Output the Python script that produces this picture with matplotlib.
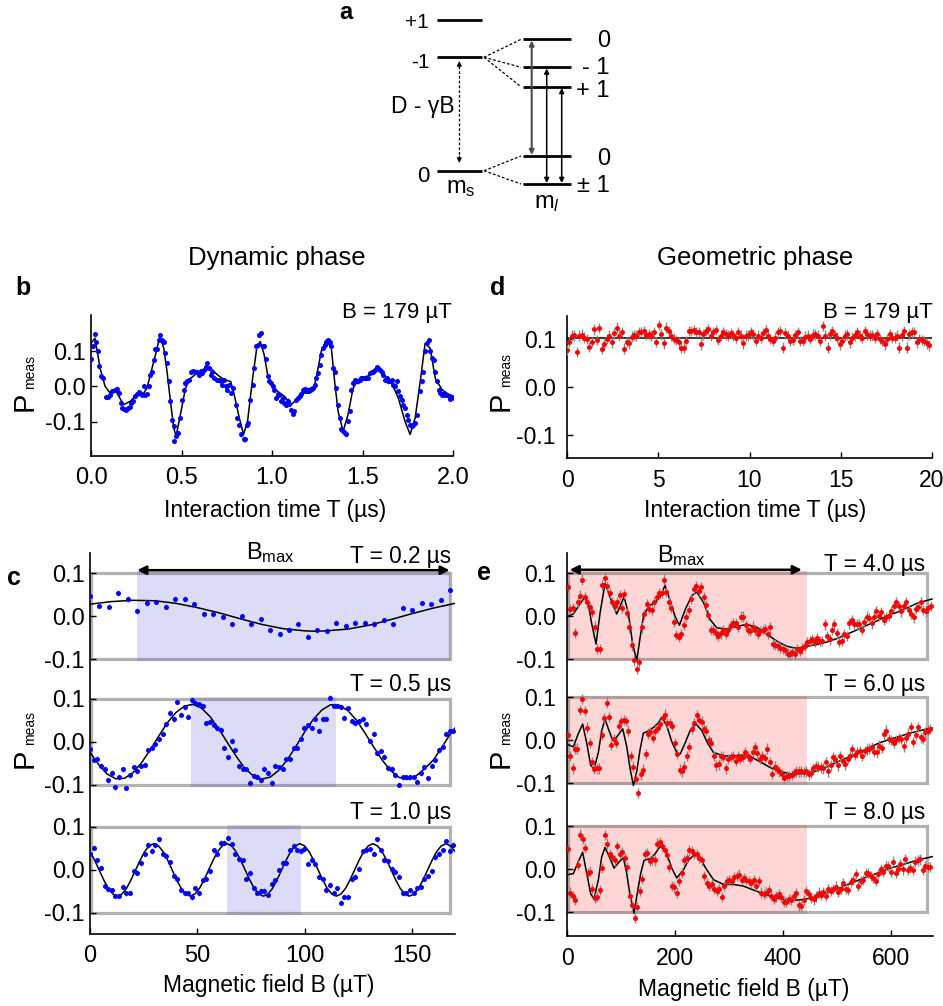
import numpy as np
import matplotlib
matplotlib.use('Agg')
import matplotlib.pyplot as plt
from matplotlib.patches import Rectangle

plt.rcParams['font.family'] = ['Liberation Sans', 'DejaVu Sans']
plt.rcParams['mathtext.fontset'] = 'custom'
plt.rcParams['mathtext.rm'] = 'Liberation Sans'
plt.rcParams['mathtext.it'] = 'Liberation Sans:italic'

# ---------------- data ----------------
# panel b : dynamic phase vs interaction time, B = 179 uT
b_T = [0.000,0.009,0.020,0.030,0.037,0.046,0.056,0.065,0.083,0.093,0.106,0.115,0.133,0.143,0.152,0.165,0.174,0.183,0.194,0.204,
       0.213,0.222,0.231,0.241,0.254,0.263,0.272,0.281,0.291,0.300,0.309,0.319,0.328,0.337,0.346,0.356,0.365,0.374,0.383,0.393,
       0.402,0.411,0.420,0.430,0.439,0.448,0.457,0.461,0.472,0.481,0.494,0.504,0.513,0.522,0.531,0.541,0.554,0.565,0.576,0.587,
       0.596,0.606,0.615,0.624,0.633,0.643,0.652,0.661,0.670,0.680,0.694,0.707,0.717,0.726,0.735,0.744,0.754,0.763,0.772,0.787,
       0.800,0.809,0.819,0.831,0.843,0.852,0.861,0.869,0.880,0.893,0.902,0.911,0.920,0.930,0.939,0.948,0.957,0.967,0.976,0.985,
       0.994,1.004,1.013,1.022,1.031,1.041,1.050,1.059,1.069,1.078,1.087,1.096,1.106,1.115,1.124,1.133,1.143,1.152,1.161,1.170,
       1.180,1.189,1.198,1.207,1.217,1.226,1.235,1.244,1.254,1.263,1.272,1.281,1.291,1.300,1.309,1.319,1.328,1.337,1.346,1.356,
       1.365,1.374,1.383,1.393,1.402,1.411,1.420,1.430,1.439,1.448,1.457,1.467,1.476,1.485,1.494,1.504,1.513,1.522,1.531,1.541,
       1.550,1.559,1.569,1.578,1.587,1.596,1.606,1.615,1.624,1.633,1.643,1.652,1.661,1.670,1.680,1.689,1.698,1.707,1.717,1.726,
       1.735,1.744,1.754,1.763,1.772,1.781,1.791,1.800,1.819,1.828,1.837,1.846,1.856,1.865,1.874,1.883,1.893,1.902,1.911,1.920,
       1.930,1.939,1.948,1.957,1.967,1.976,1.985,1.994,2.004]
b_P = [0.078,0.113,0.147,0.125,0.100,0.058,0.028,0.025,-0.031,-0.031,-0.025,-0.014,-0.009,-0.006,-0.019,-0.047,-0.061,-0.063,-0.066,-0.061,
       -0.059,-0.047,-0.041,-0.028,-0.022,-0.016,-0.019,-0.023,0.000,-0.023,-0.021,0.000,0.033,0.042,0.075,0.106,0.106,0.131,0.145,0.131,
       0.125,0.094,0.066,0.014,-0.042,-0.094,-0.113,-0.155,-0.141,-0.131,-0.089,-0.038,-0.009,0.009,0.014,0.019,0.042,0.044,0.042,0.042,
       0.033,0.044,0.038,0.047,0.056,0.066,0.052,0.033,0.042,0.025,0.019,0.019,0.014,0.005,0.019,0.000,-0.009,0.005,-0.019,-0.005,
       -0.052,-0.089,-0.110,-0.136,-0.150,-0.150,-0.108,-0.103,-0.038,0.005,0.052,0.113,0.117,0.146,0.150,0.113,0.113,0.078,0.028,0.016,
       0.009,0.000,-0.009,-0.033,-0.021,-0.025,-0.040,-0.033,-0.047,-0.052,-0.040,-0.050,-0.066,-0.078,-0.070,-0.038,-0.033,-0.028,-0.022,-0.009,
       -0.006,-0.009,-0.009,-0.014,-0.006,-0.005,0.003,0.023,0.038,0.061,0.089,0.108,0.117,0.125,0.131,0.127,0.113,0.052,0.042,-0.005,
       -0.052,-0.089,-0.122,-0.125,-0.131,-0.136,-0.099,-0.070,-0.009,0.009,0.019,0.014,0.014,0.019,0.023,0.023,0.025,0.025,0.023,0.038,
       0.042,0.042,0.047,0.054,0.052,0.047,0.042,0.033,0.019,0.023,0.014,0.016,0.019,0.005,0.000,0.014,-0.014,-0.028,-0.038,-0.052,
       -0.061,-0.080,-0.094,-0.108,-0.113,-0.108,-0.103,-0.080,-0.014,0.014,0.042,0.099,0.122,0.131,0.099,0.080,0.075,0.042,0.014,-0.009,
       -0.019,-0.023,-0.019,-0.025,-0.023,-0.028,-0.035,-0.031,-0.033]
b_err = 0.006
b_fit_T = [0.000,0.022,0.050,0.078,0.106,0.133,0.180,0.217,0.254,0.291,0.309,0.328,0.356,0.380,0.402,0.420,0.439,0.457,0.470,0.494,
           0.522,0.550,0.587,0.624,0.661,0.698,0.735,0.772,0.791,0.819,0.843,0.865,0.893,0.917,0.935,0.957,0.976,1.004,1.031,1.069,
           1.106,1.133,1.161,1.198,1.226,1.244,1.272,1.300,1.328,1.346,1.365,1.393,1.420,1.448,1.476,1.513,1.550,1.587,1.624,1.661,
           1.698,1.735,1.763,1.791,1.819,1.846,1.874,1.902,1.939,1.976,2.000]
b_fit_P = [0.122,0.136,0.052,0.000,-0.019,-0.009,-0.052,-0.042,-0.023,-0.019,-0.005,0.033,0.089,0.141,0.108,0.042,-0.042,-0.117,-0.141,-0.080,
           -0.005,0.023,0.038,0.042,0.052,0.033,0.019,0.014,-0.023,-0.089,-0.136,-0.099,0.023,0.113,0.127,0.089,0.033,0.000,-0.014,-0.028,
           -0.052,-0.038,-0.019,-0.019,-0.014,0.023,0.099,0.131,0.108,0.014,-0.070,-0.127,-0.080,-0.005,0.019,0.023,0.038,0.047,0.028,0.009,
           -0.033,-0.099,-0.136,-0.089,0.014,0.122,0.108,0.023,-0.009,-0.023,-0.027]
b_xticks = [0.0, 0.5, 1.0, 1.5, 2.0]

# panel d : geometric phase vs interaction time, B = 179 uT
d_P = [0.076,0.093,0.106,0.107,0.072,0.106,0.108,0.102,0.099,0.083,0.093,0.119,0.097,0.122,0.079,0.088,0.099,0.106,0.092,0.111,
       0.123,0.106,0.114,0.079,0.093,0.090,0.104,0.107,0.106,0.113,0.114,0.116,0.108,0.109,0.106,0.113,0.093,0.128,0.109,0.090,
       0.123,0.116,0.106,0.100,0.097,0.092,0.081,0.081,0.095,0.116,0.116,0.118,0.114,0.114,0.088,0.109,0.116,0.119,0.106,0.114,
       0.118,0.097,0.106,0.113,0.109,0.106,0.111,0.107,0.102,0.113,0.106,0.090,0.106,0.107,0.113,0.109,0.095,0.106,0.102,0.111,
       0.118,0.106,0.099,0.095,0.102,0.113,0.116,0.081,0.111,0.106,0.095,0.097,0.107,0.113,0.095,0.095,0.104,0.106,0.099,0.108,
       0.109,0.106,0.095,0.126,0.106,0.081,0.109,0.116,0.107,0.102,0.088,0.095,0.106,0.109,0.092,0.102,0.107,0.114,0.106,0.102,
       0.116,0.109,0.106,0.107,0.102,0.109,0.099,0.095,0.088,0.099,0.109,0.102,0.102,0.106,0.081,0.107,0.116,0.081,0.109,0.113,
       0.114,0.092,0.099,0.097,0.095,0.090,0.086]
d_err = 0.011
d_fit_T = [0.0, 20.0]
d_fit_P = [0.102, 0.102]
d_xticks = [0, 5, 10, 15, 20]

# panel c : dynamic phase vs magnetic field
c_labels = ['T = 0.2 \u00b5s', 'T = 0.5 \u00b5s', 'T = 1.0 \u00b5s']
c1_P = [0.046,0.024,0.022,0.055,0.040,0.012,0.030,0.034,0.022,0.040,0.040,0.028,0.005,0.004,-0.001,-0.019,0.000,-0.018,-0.007,-0.033,
        -0.042,-0.031,-0.019,-0.048,-0.033,-0.034,-0.015,-0.022,-0.015,-0.015,-0.018,-0.009,-0.019,0.020,0.014,0.030,0.028,0.038,0.060]
c2_P = [-0.016,-0.042,-0.040,-0.056,-0.063,-0.090,-0.072,-0.105,-0.083,-0.064,-0.107,-0.078,-0.059,-0.068,-0.056,-0.054,-0.020,-0.014,-0.005,0.006,
        0.019,0.041,0.067,0.053,0.093,0.063,0.080,0.058,0.097,0.090,0.087,0.084,0.043,0.047,0.039,0.032,0.028,-0.014,-0.036,0.002,
        -0.019,-0.057,-0.063,-0.064,-0.096,-0.079,-0.081,-0.090,-0.063,-0.072,-0.096,-0.056,-0.059,-0.063,-0.041,-0.041,-0.014,-0.014,0.007,0.032,
        0.038,0.033,0.054,0.026,0.053,0.054,0.102,0.084,0.084,0.082,0.056,0.078,0.048,0.043,0.048,0.053,0.041,0.002,0.019,-0.026,
        -0.021,-0.035,-0.061,-0.063,-0.078,-0.100,-0.083,-0.083,-0.083,-0.083,-0.093,-0.073,-0.059,-0.085,-0.056,-0.042,-0.019,-0.011,0.019,0.026,
        0.026]
c3_P = [0.037,0.052,0.022,0.005,-0.038,-0.045,-0.047,-0.060,-0.060,-0.039,-0.054,-0.053,-0.003,-0.006,0.016,0.037,0.058,0.044,0.057,0.071,
        0.038,0.033,0.018,-0.013,-0.020,-0.047,-0.054,-0.054,-0.064,-0.043,-0.054,-0.024,-0.020,-0.003,0.046,0.037,0.063,0.063,0.075,0.060,
        0.038,0.025,0.022,-0.020,-0.007,-0.043,-0.053,-0.048,-0.049,-0.058,-0.032,-0.024,-0.001,0.016,0.016,0.046,0.056,0.046,0.044,0.048,
        0.014,0.022,0.014,-0.016,-0.022,-0.047,-0.035,-0.054,-0.043,-0.076,-0.062,-0.064,-0.022,-0.016,0.003,0.043,0.046,0.048,0.038,0.071,
        0.046,0.022,0.020,0.003,-0.005,-0.016,-0.054,-0.054,-0.047,-0.053,-0.043,-0.039,-0.020,-0.015,-0.003,0.029,0.038,0.046,0.067,0.044,
        0.058]
c_err = 0.006
c1_fit_B = [0,10,20,30,40,50,60,70,80,90,100,105,110,120,130,140,150,160,170]
c1_fit_P = [0.028,0.034,0.037,0.036,0.030,0.020,0.008,-0.006,-0.019,-0.029,-0.034,-0.035,-0.034,-0.030,-0.021,-0.008,0.006,0.019,0.030]
c2_fit_B = [0,4,8,12,16,20,24,28,32,36,40,44,48,52,56,60,64,68,72,76,80,84,88,92,96,100,104,108,112,116,120,124,128,132,136,140,144,148,152,156,160,164,168,170]
c2_fit_P = [-0.024,-0.053,-0.075,-0.086,-0.085,-0.072,-0.049,-0.019,0.013,0.044,0.068,0.083,0.087,0.078,0.058,0.030,-0.002,-0.033,-0.061,-0.079,
            -0.087,-0.082,-0.066,-0.041,-0.010,0.023,0.052,0.074,0.086,0.085,0.073,0.051,0.021,-0.011,-0.042,-0.067,-0.083,-0.087,-0.079,-0.062,
            -0.042,-0.012,0.020,0.032]
c3_fit_P = [0.043,0.023,0.000,-0.023,-0.043,-0.056,-0.061,-0.056,-0.043,-0.023,0.000,0.023,0.043,0.056,0.061,0.056,
            0.043,0.023,0.000,-0.023,-0.043,-0.056,-0.061,-0.056,-0.043,-0.023,0.000,0.023,0.043,0.056,0.061,0.056,
            0.043,0.023,0.000,-0.023,-0.043,-0.056,-0.061,-0.056,-0.043,-0.023,0.000,0.023,0.043,0.056,0.061,0.056,
            0.043,0.023,0.000,-0.023,-0.043,-0.056,-0.061,-0.056,-0.043,-0.023,0.000,0.023,0.043,0.056,0.061,0.056,
            0.043,0.023,0.000,-0.023,-0.043,-0.056,-0.061,-0.056,-0.043,-0.023,0.000,0.023,0.043,0.056,0.061,0.056,
            0.043]
c_bmax = [(22.0, 167.5), (47.2, 114.5), (63.7, 98.4)]
c_xticks = [0, 50, 100, 150]

# panel e : geometric phase vs magnetic field
e_labels = ['T = 4.0 \u00b5s', 'T = 6.0 \u00b5s', 'T = 8.0 \u00b5s']
e1_P = [0.067,0.016,0.018,-0.040,0.031,0.047,0.084,0.043,0.031,0.021,0.008,-0.025,-0.077,-0.077,0.071,0.089,0.070,0.053,0.032,0.022,
        0.031,0.049,0.018,0.051,0.006,-0.027,-0.069,-0.104,-0.124,-0.107,-0.027,0.004,0.027,0.016,0.014,0.031,0.043,0.053,0.053,0.084,
        0.055,0.031,0.018,-0.014,-0.044,-0.049,-0.043,-0.022,-0.002,0.013,0.039,0.062,0.070,0.057,0.067,0.043,0.024,0.002,-0.033,-0.033,
        -0.041,-0.047,-0.041,-0.033,-0.043,-0.033,-0.022,-0.017,-0.017,-0.025,-0.002,-0.002,-0.022,-0.033,-0.036,-0.025,-0.033,-0.043,-0.036,-0.033,
        -0.031,-0.043,-0.027,-0.066,-0.067,-0.071,-0.074,-0.077,-0.080,-0.088,-0.090,-0.084,-0.088,-0.077,-0.082,-0.076,-0.071,-0.061,-0.059,-0.055,
        -0.061,-0.051,-0.058,-0.059,-0.020,-0.047,-0.055,-0.033,-0.020,-0.041,-0.061,-0.058,-0.043,-0.047,-0.018,-0.010,-0.020,-0.020,-0.020,-0.033,
        -0.014,-0.002,-0.006,-0.018,-0.002,0.010,0.000,0.008,-0.009,-0.004,0.000,0.010,0.022,0.031,0.022,0.010,0.022,0.031,0.014,0.004,
        -0.004,0.016,0.021,0.031,0.014,0.010,0.018,0.022]
e2_P = [0.012,-0.036,-0.065,-0.019,-0.019,0.071,0.096,0.068,0.030,-0.006,-0.050,-0.066,-0.065,-0.065,0.012,0.052,0.088,0.054,-0.010,0.003,
        -0.006,0.034,0.045,0.047,0.045,0.023,-0.036,-0.061,-0.090,-0.123,-0.079,-0.068,-0.032,0.016,0.019,0.005,0.023,0.030,0.038,0.052,
        0.060,0.041,0.041,0.034,-0.006,-0.032,-0.068,-0.072,-0.061,-0.036,-0.015,0.027,0.041,0.058,0.047,0.044,0.027,0.023,0.001,-0.005,
        -0.036,-0.058,-0.056,-0.036,-0.039,-0.065,-0.043,-0.039,-0.036,-0.047,-0.036,-0.043,-0.039,-0.028,-0.036,-0.043,-0.027,-0.015,-0.030,-0.043,
        -0.036,-0.041,-0.019,-0.050,-0.078,-0.061,-0.066,-0.072,-0.078,-0.088,-0.083,-0.083,-0.081,-0.076,-0.072,-0.072,-0.072,-0.074,-0.072,-0.079,
        -0.076,-0.065,-0.059,-0.061,-0.063,-0.065,-0.050,-0.072,-0.058,-0.039,-0.043,-0.058,-0.037,-0.047,-0.056,-0.043,-0.037,-0.021,-0.034,-0.028,
        -0.025,-0.036,-0.025,-0.021,-0.019,-0.015,-0.027,-0.028,-0.012,-0.017,0.014,0.023,0.003,0.001,-0.006,0.001,0.005,0.003,-0.014,0.005,
        0.016,0.032,-0.003,0.012,0.032,0.007,0.003,0.019,0.023,0.027]
e3_P = [0.048,-0.054,-0.063,-0.072,0.010,0.081,0.070,0.050,-0.009,-0.005,-0.046,-0.067,-0.065,-0.048,0.003,0.080,0.060,0.035,0.029,0.021,
        0.055,0.036,0.040,0.027,0.006,-0.061,-0.084,-0.113,-0.087,-0.050,-0.022,0.036,0.038,0.020,0.023,0.021,0.060,0.063,0.055,0.044,
        0.033,0.006,-0.039,-0.042,-0.054,-0.027,-0.009,0.021,0.027,0.044,0.042,0.036,0.035,0.027,0.021,-0.016,-0.031,-0.039,-0.035,-0.046,
        -0.050,-0.046,-0.065,-0.039,-0.027,-0.024,-0.027,-0.018,-0.016,-0.012,-0.025,-0.020,-0.024,-0.027,-0.031,-0.024,-0.039,-0.027,-0.054,-0.057,
        -0.054,-0.048,-0.061,-0.069,-0.063,-0.057,-0.065,-0.075,-0.076,-0.069,-0.072,-0.063,-0.055,-0.084,-0.085,-0.072,-0.050,-0.057,-0.067,-0.070,
        -0.063,-0.054,-0.060,-0.052,-0.061,-0.046,-0.050,-0.046,-0.040,-0.052,-0.046,-0.031,-0.045,-0.048,-0.030,-0.025,-0.010,-0.039,-0.027,-0.024,
        -0.009,-0.009,-0.016,-0.020,-0.027,-0.010,0.000,-0.005,0.008,0.008,-0.005,0.018,-0.009,0.000,0.012,0.000,0.023,-0.001,0.003,-0.001,
        0.018,0.021,0.023,-0.001,0.008,0.006,0.006]
e_err = 0.012
e1_fit_B = [0.0,11.7,21.0,33.4,39.6,45.7,53.8,61.2,70.5,78.5,92.1,105.7,113.7,121.8,129.2,135.4,141.5,150.8,163.2,172.4,
            181.7,191.0,200.3,208.3,218.8,231.2,240.4,252.8,265.2,277.5,296.1,314.6,333.2,351.7,370.2,388.8,407.3,425.9,444.4,462.9,
            481.5,500.0,518.5,537.1,555.6,574.2,592.7,611.3,629.8,648.4,676.2]
e1_fit_P = [-0.002,0.004,0.022,0.044,0.027,-0.018,-0.066,0.006,0.076,0.047,0.004,0.044,0.006,-0.067,-0.104,-0.051,-0.002,0.022,0.031,0.043,
            0.071,0.035,-0.002,-0.022,0.014,0.047,0.055,0.031,-0.009,-0.028,-0.031,-0.025,-0.020,-0.027,-0.043,-0.059,-0.071,-0.076,-0.071,-0.067,
            -0.061,-0.053,-0.043,-0.033,-0.022,-0.012,0.000,0.008,0.018,0.029,0.039]
e2_fit_B = [2.5,11.7,21.0,29.0,36.5,43.9,50.1,58.1,64.3,70.5,76.6,84.7,92.1,103.2,110.6,116.8,123.0,129.2,135.4,141.5,
            150.8,160.1,169.3,175.5,184.8,194.1,203.3,209.5,218.8,228.1,239.2,249.7,260.2,271.3,289.9,308.4,326.9,339.3,357.9,376.4,
            395.0,413.5,432.0,450.6,469.1,487.7,506.2,524.8,543.3,561.8,580.4,598.9,617.5,636.0,654.6,676.2]
e2_fit_P = [-0.010,-0.015,0.016,0.038,-0.006,-0.058,-0.066,-0.028,0.023,0.049,0.027,0.000,0.008,0.027,-0.014,-0.065,-0.105,-0.072,-0.021,0.017,
            0.022,0.030,0.041,0.054,0.034,-0.003,-0.028,-0.032,-0.006,0.023,0.038,0.023,-0.006,-0.028,-0.036,-0.036,-0.034,-0.037,-0.050,-0.063,
            -0.072,-0.078,-0.078,-0.076,-0.068,-0.058,-0.047,-0.037,-0.027,-0.015,-0.005,0.003,0.010,0.017,0.023,0.029]
e3_fit_B = [2.5,11.7,21.0,29.0,36.5,43.9,50.1,58.1,64.3,70.5,78.5,87.1,97.0,104.5,110.6,116.8,124.2,130.4,136.6,142.8,
            153.9,163.2,169.3,175.5,184.8,194.1,203.3,215.7,225.0,237.3,246.6,259.0,271.3,289.9,308.4,326.9,345.5,364.0,382.6,401.1,
            419.7,438.2,456.8,475.3,493.9,512.4,531.0,549.5,568.0,586.6,605.1,623.7,642.2,660.7,678.0]
e3_fit_P = [-0.012,-0.010,0.018,0.040,-0.009,-0.057,-0.069,-0.024,0.029,0.051,0.029,0.003,0.018,0.027,-0.009,-0.061,-0.102,-0.054,-0.009,0.021,
            0.025,0.036,0.048,0.057,0.036,0.003,-0.020,-0.001,0.021,0.036,0.025,-0.001,-0.024,-0.035,-0.035,-0.039,-0.048,-0.057,-0.065,-0.070,
            -0.072,-0.070,-0.065,-0.057,-0.050,-0.039,-0.030,-0.020,-0.012,-0.003,0.005,0.012,0.019,0.025,0.030]
e_bmax = [(2.0, 445.0)] * 3
e_xticks = [0, 200, 400, 600]

# ---------------- figure ----------------
W, H = 943, 1006
fig = plt.figure(figsize=(W / 100, H / 100), dpi=100)


def rect(l, t, r, b):
    return [l / W, 1 - b / H, (r - l) / W, (b - t) / H]


BLUE, RED, GREY = '#0000ff', '#ff0000', '#858585'
TICK_L, TICK_R = 17, 16.5


def style(ax, ypad, lsize):
    for s in ('top', 'right'):
        ax.spines[s].set_visible(False)
    for s in ('left', 'bottom'):
        ax.spines[s].set_linewidth(1.2)
    ax.tick_params(direction='in', length=4, width=1.0, labelsize=lsize)
    ax.tick_params(axis='x', pad=8)
    ax.tick_params(axis='y', pad=ypad)


def pts(ax, x, y, err, col, cap=2.2):
    ax.errorbar(x, y, yerr=err, fmt='o', ms=3.6, mfc=col, mec=col, mew=0,
                ecolor=GREY, elinewidth=1.0, capsize=cap, capthick=1.0, zorder=3)


def fmt(v):
    return '%.1f' % v if v >= 0 else '-%.1f' % (-v)


# ---- panel b
ax_b = fig.add_axes(rect(91, 315, 453, 456))
style(ax_b, 4, TICK_L)
ax_b.plot(b_fit_T, b_fit_P, color='k', lw=1.1, zorder=2)
pts(ax_b, b_T, b_P, b_err, BLUE)
ax_b.set_xlim(0, 2.0)
ax_b.set_ylim(-0.197, 0.202)
ax_b.set_xticks(b_xticks)
ax_b.set_xticklabels(['%.1f' % v for v in b_xticks])
ax_b.set_yticks([-0.1, 0.0, 0.1])
ax_b.set_yticklabels(['-0.1', '0.0', '0.1'])

# ---- panel d
ax_d = fig.add_axes(rect(567, 316, 932, 458))
style(ax_d, 8, TICK_R)
d_T = np.linspace(0, 19.85, len(d_P))
ax_d.plot(d_fit_T, d_fit_P, color='k', lw=1.1, zorder=2)
pts(ax_d, d_T, d_P, d_err, RED, cap=2.7)
ax_d.set_xlim(0, 20)
ax_d.set_ylim(-0.148, 0.147)
ax_d.set_xticks(d_xticks)
ax_d.set_yticks([-0.1, 0.0, 0.1])
ax_d.set_yticklabels(['-0.1', '0.0', '0.1'])


def stacked(ax, offsets, boxx, shades, shade_col, series, fits, col, err, cap):
    for off, (s0, s1) in zip(offsets, shades):
        ax.add_patch(Rectangle((s0, off - 0.104), s1 - s0, 0.208, facecolor=shade_col,
                               edgecolor='none', zorder=0.5))
        ax.add_patch(Rectangle((boxx[0], off - 0.1), boxx[1] - boxx[0], 0.2, fill=False,
                               edgecolor=(0.33, 0.33, 0.33, 0.45), lw=2.3, zorder=1))
    for off, (fx, fy) in zip(offsets, fits):
        ax.plot(fx, np.array(fy) + off, color='k', lw=1.1, zorder=2)
    for off, (x, y) in zip(offsets, series):
        pts(ax, x, np.array(y) + off, err, col, cap)
    ticks, labels = [], []
    for off in offsets:
        for v in (-0.1, 0.0, 0.1):
            ticks.append(off + v)
            labels.append(fmt(v))
    ax.set_yticks(ticks)
    ax.set_yticklabels(labels)


# ---- panel c
ax_c = fig.add_axes(rect(90, 553, 455, 934))
style(ax_c, 4, TICK_L)
c_off = [0.59, 0.298, 0.0]
c_series = [(np.linspace(0, 167.7, len(c1_P)), c1_P),
            (np.linspace(0, 169.3, len(c2_P)), c2_P),
            (np.linspace(0, 169.3, len(c3_P)), c3_P)]
c_fits = [(c1_fit_B, c1_fit_P), (c2_fit_B, c2_fit_P),
          (np.linspace(0, 170, len(c3_fit_P)), c3_fit_P)]
stacked(ax_c, c_off, (0.5, 167.5), c_bmax, '#dcdcf9', c_series, c_fits, BLUE, c_err, 2.2)
ax_c.set_xlim(0, 170)
ax_c.set_ylim(-0.149, 0.737)
ax_c.set_xticks(c_xticks)
ax_c.annotate('', xy=(c_bmax[0][0], 0.697), xytext=(c_bmax[0][1], 0.697),
              arrowprops=dict(arrowstyle='<|-|>', color='k', lw=1.8, mutation_scale=13,
                              shrinkA=0, shrinkB=0))

# ---- panel e
ax_e = fig.add_axes(rect(567, 553, 933, 936))
style(ax_e, 8, TICK_R)
e_off = [0.59, 0.300, 0.0]
e_series = [(np.linspace(1.2, 674, len(e1_P)), e1_P),
            (np.linspace(1.2, 673, len(e2_P)), e2_P),
            (np.linspace(1.2, 673, len(e3_P)), e3_P)]
e_fits = [(e1_fit_B, e1_fit_P), (e2_fit_B, e2_fit_P), (e3_fit_B, e3_fit_P)]
stacked(ax_e, e_off, (2.0, 667.0), e_bmax, '#ffd6d6', e_series, e_fits, RED, e_err, 2.7)
ax_e.set_xlim(0, 678)
ax_e.set_ylim(-0.155, 0.736)
ax_e.set_xticks(e_xticks)
ax_e.annotate('', xy=(5, 0.697), xytext=(435, 0.697),
              arrowprops=dict(arrowstyle='<|-|>', color='k', lw=1.8, mutation_scale=13,
                              shrinkA=0, shrinkB=0))

# ---------------- overlay (pixel coordinates) ----------------
ov = fig.add_axes([0, 0, 1, 1])
ov.set_xlim(0, W)
ov.set_ylim(H, 0)
ov.axis('off')
ov.set_zorder(10)


def txt(x, y, s, **kw):
    kw.setdefault('va', 'baseline')
    ov.text(x, y, s, **kw)


# panel a : level diagram
for y in (20, 57.3, 170.7):
    ov.plot([437, 482], [y, y], color='k', lw=2.0, solid_capstyle='butt')
for y in (39.3, 67.3, 86.7, 156, 184):
    ov.plot([523, 571], [y, y], color='k', lw=2.0, solid_capstyle='butt')
dash = (0, (2.2, 1.6))
for y in (39.3, 67.3, 86.7):
    ov.plot([484, 521], [57.3, y], color='k', lw=0.9, ls=dash)
for y in (156, 184):
    ov.plot([484, 521], [170.7, y], color='k', lw=0.9, ls=dash)
ov.plot([459.3, 459.3], [66, 158], color='k', lw=0.9, ls=dash)
for y0, y1 in ((68, 61), (156, 163)):
    ov.annotate('', xy=(459.3, y1), xytext=(459.3, y0),
                arrowprops=dict(arrowstyle='-|>', color='k', lw=0.8, mutation_scale=7,
                                shrinkA=0, shrinkB=0))
for x, y0, y1, c, lw in ((531.7, 40.5, 155.0, '#4d4d4d', 1.5),
                         (546.7, 68.5, 183.0, 'k', 1.1),
                         (561.7, 88.0, 183.0, 'k', 1.1)):
    ov.annotate('', xy=(x, y0), xytext=(x, y1),
                arrowprops=dict(arrowstyle='<|-|>', color=c, lw=lw, mutation_scale=7,
                                shrinkA=0, shrinkB=0))
txt(339, 18.8, 'a', fontsize=17, fontweight='bold', ha='left')
txt(429, 28.3, '+1', fontsize=15, ha='right')
txt(430, 68.3, '-1', fontsize=15, ha='right')
txt(429, 181.5, '0', fontsize=16, ha='right')
txt(423, 113.3, 'D - \u03b3B', fontsize=16.5, ha='center')
txt(461, 193.3, r'$\mathregular{m_s}$', fontsize=17, ha='center')
txt(547, 208.3, r'$\mathregular{m}_{l}$', fontsize=17, ha='center')
txt(610, 46.7, '0', fontsize=17, ha='right')
txt(610, 74.0, '- 1', fontsize=17, ha='right')
txt(610, 96.7, '+ 1', fontsize=17, ha='right')
txt(610, 165.0, '0', fontsize=17, ha='right')
txt(610, 191.7, '\u00b1 1', fontsize=17, ha='right')

# titles and panel letters
txt(277, 265, 'Dynamic phase', fontsize=18.5, ha='center')
txt(755, 265, 'Geometric phase', fontsize=18.5, ha='center')
txt(15, 295, 'b', fontsize=18, fontweight='bold', ha='left')
txt(490, 295, 'd', fontsize=18, fontweight='bold', ha='left')
txt(7, 585, 'c', fontsize=18, fontweight='bold', ha='left')
txt(477, 580, 'e', fontsize=18, fontweight='bold', ha='left')

# in-panel annotations
txt(452, 318.3, 'B = 179 \u00b5T', fontsize=16, ha='right')
txt(933, 318.3, 'B = 179 \u00b5T', fontsize=16, ha='right')
for (y, s) in zip((562.7, 691.0, 819.3), c_labels):
    txt(451, y, s, fontsize=16.3, ha='right')
for (y, s) in zip((571.0, 691.0, 819.3), e_labels):
    txt(925, y, s, fontsize=16.3, ha='right')
txt(246, 559.3, r'$\mathregular{B_{max}}$', fontsize=17, ha='left')
txt(657, 561.7, r'$\mathregular{B_{max}}$', fontsize=17, ha='left')

# axis labels
txt(275, 516.7, 'Interaction time T (\u00b5s)', fontsize=16.5, ha='center')
txt(755, 516.7, 'Interaction time T (\u00b5s)', fontsize=16.5, ha='center')
txt(269, 991.7, 'Magnetic field B (\u00b5T)', fontsize=16.5, ha='center')
txt(744, 996.0, 'Magnetic field B (\u00b5T)', fontsize=16.5, ha='center')
for (x, yP, ym) in ((33, 411, 389), (33, 768, 745), (509, 411, 387), (509, 768, 745)):
    txt(x, yP, 'P', fontsize=21, rotation=90, rotation_mode='anchor', ha='left')
    txt(x + 1, ym, 'meas', fontsize=10, rotation=90, rotation_mode='anchor', ha='left')

fig.savefig('out.png', dpi=100)
